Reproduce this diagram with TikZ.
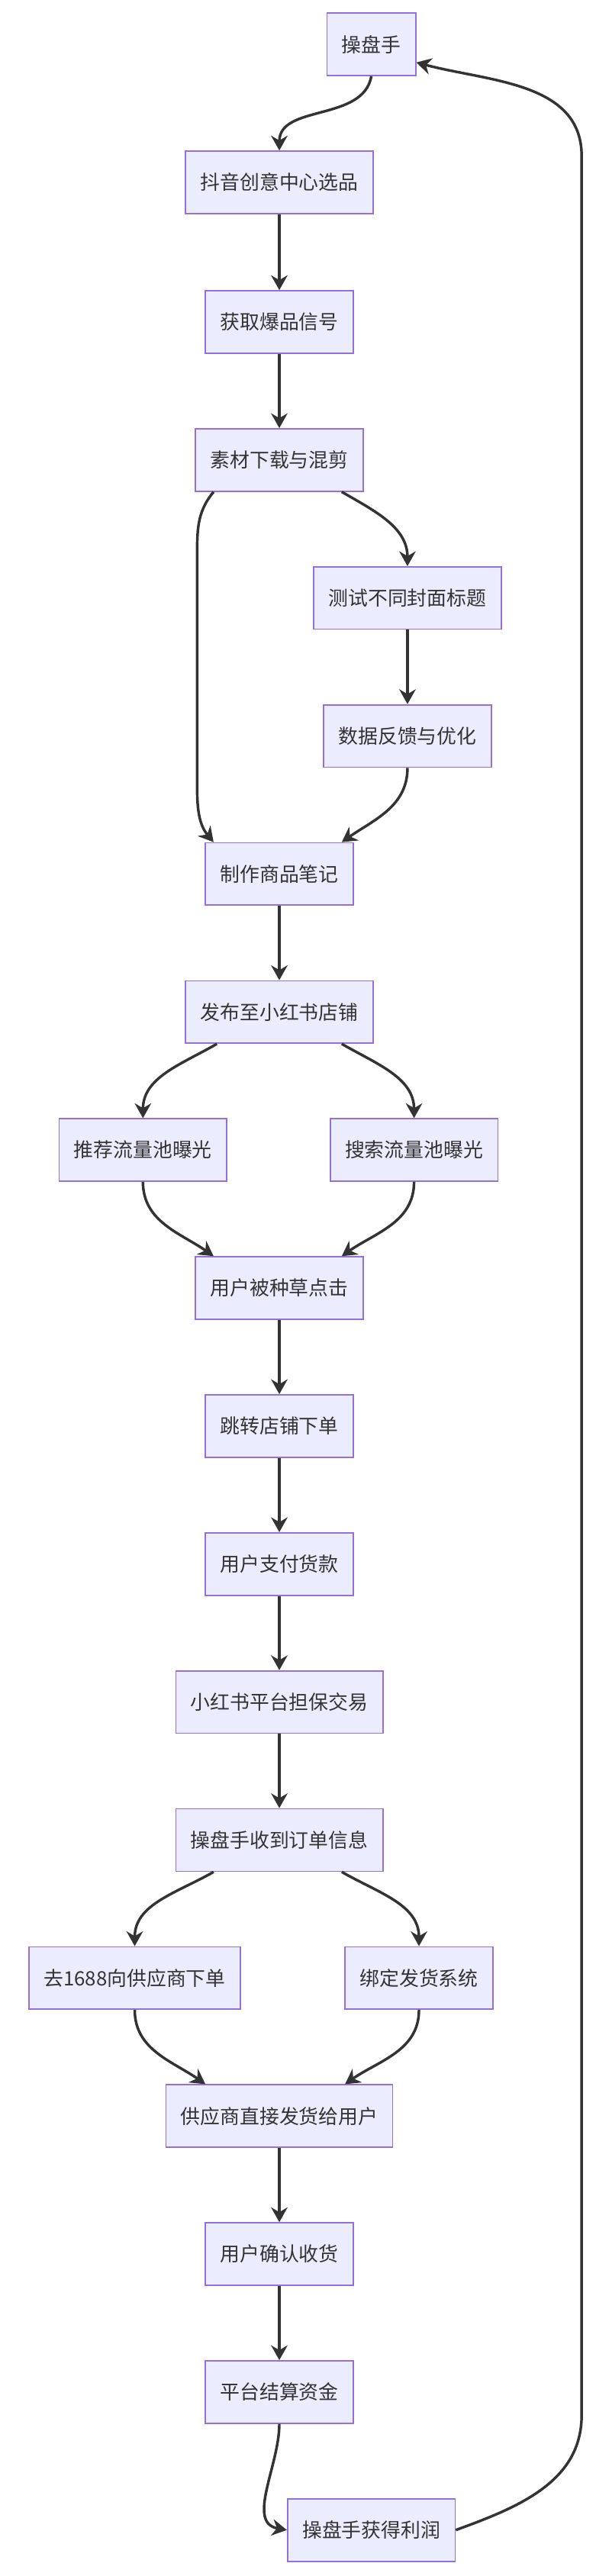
\documentclass[tikz,border=0pt]{standalone}
\usepackage{fontspec}
\setmainfont{Noto Sans CJK SC}
\usetikzlibrary{arrows.meta,calc}
\begin{document}
\begin{tikzpicture}[x=1pt,y=-1pt,
  box/.style={draw=violet!70!blue!60, fill=blue!7, line width=0.8pt, minimum height=38pt, inner xsep=9pt, font=\fontsize{12}{14}\selectfont, text=black!80},
  ar/.style={draw=black!80, line width=1.6pt, -{Stealth[length=9pt,width=10pt]}}]
\useasboundingbox[fill=white] (0,0) rectangle (362.3,1568);
\definecolor{bx}{HTML}{ECECFF}\definecolor{bd}{HTML}{9370DB}
\tikzset{box/.append style={fill=bx,draw=bd}}
\node[box] (a) at (226,27) {操盘手};
\node[box] (b) at (170,111) {抖音创意中心选品};
\node[box] (c) at (170,196) {获取爆品信号};
\node[box] (d) at (170,280) {素材下载与混剪};
\node[box] (e) at (248,364) {测试不同封面标题};
\node[box] (f) at (248,448) {数据反馈与优化};
\node[box] (g) at (170,532) {制作商品笔记};
\node[box] (h) at (170,616) {发布至小红书店铺};
\node[box] (i) at (87,700) {推荐流量池曝光};
\node[box] (j) at (252,700) {搜索流量池曝光};
\node[box] (k) at (170,784) {用户被种草点击};
\node[box] (l) at (170,868) {跳转店铺下单};
\node[box] (m) at (170,952) {用户支付货款};
\node[box] (n) at (170,1036) {小红书平台担保交易};
\node[box] (o) at (170,1120) {操盘手收到订单信息};
\node[box] (p) at (82,1204) {去1688向供应商下单};
\node[box] (q) at (255,1204) {绑定发货系统};
\node[box] (r) at (170,1288) {供应商直接发货给用户};
\node[box] (s) at (170,1372) {用户确认收货};
\node[box] (t) at (170,1456) {平台结算资金};
\node[box] (u) at (226,1540) {操盘手获得利润};
\coordinate (la) at (120,340); \coordinate (lb) at (120,480);
\coordinate (ra) at (354,1470); \coordinate (rb) at (354,95);
\draw[ar] (a.south) to[out=-100,in=90] (b.north);
\draw[ar] (b) -- (c); \draw[ar] (c) -- (d);
\draw[ar] ($(d.south)+(-40,0)$) to[out=-130,in=90] (la) -- (lb) to[out=-90,in=130] ($(g.north)+(-40,0)$);
\draw[ar] ($(d.south)+(38,0)$) to[out=-30,in=90] (e.north);
\draw[ar] (e) -- (f);
\draw[ar] (f.south) to[out=-90,in=35] ($(g.north)+(38,0)$);
\draw[ar] (g) -- (h);
\draw[ar] ($(h.south)+(-38,0)$) to[out=-150,in=90] (i.north);
\draw[ar] ($(h.south)+(38,0)$) to[out=-30,in=90] (j.north);
\draw[ar] (i.south) to[out=-90,in=145] ($(k.north)+(-40,0)$);
\draw[ar] (j.south) to[out=-90,in=35] ($(k.north)+(38,0)$);
\draw[ar] (k) -- (l); \draw[ar] (l) -- (m); \draw[ar] (m) -- (n); \draw[ar] (n) -- (o);
\draw[ar] ($(o.south)+(-40,0)$) to[out=-150,in=90] (p.north);
\draw[ar] ($(o.south)+(38,0)$) to[out=-30,in=90] (q.north);
\draw[ar] (p.south) to[out=-90,in=145] ($(r.north)+(-45,0)$);
\draw[ar] (q.south) to[out=-90,in=35] ($(r.north)+(40,0)$);
\draw[ar] (r) -- (s); \draw[ar] (s) -- (t);
\draw[ar] (t.south) to[out=-90,in=170] (u.west);
\draw[ar] (u.east) to[out=20,in=-90] (ra) -- (rb) to[out=90,in=-15] ($(a.east)+(0,11)$);
\end{tikzpicture}
\end{document}
